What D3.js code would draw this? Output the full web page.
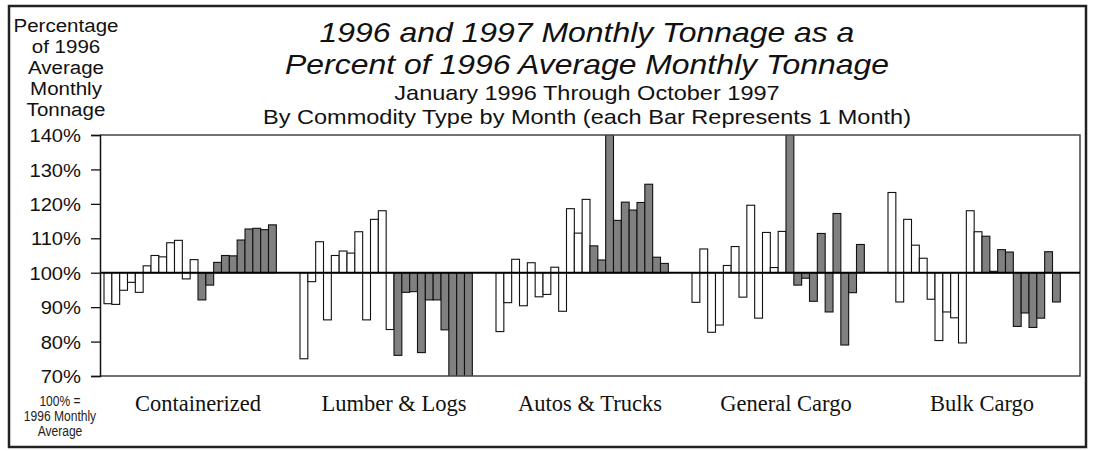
<!DOCTYPE html>
<html><head><meta charset="utf-8">
<script src="https://cdn.jsdelivr.net/npm/d3@7"></script>
<style>
html,body{margin:0;padding:0;background:#fff;}
svg{display:block;}
</style></head>
<body>
<svg id="chart" width="1094" height="451"></svg>
<script>
// ---------- DATA ----------
const categories = ["Containerized", "Lumber & Logs", "Autos & Trucks", "General Cargo", "Bulk Cargo"];
// Jan..Dec 1996 and Jan..Oct 1997 (each value = % of 1996 average monthly tonnage)
const containerized1996 = [91.0, 90.8, 94.9, 97.2, 94.3, 102.0, 105.0, 104.6, 108.7, 109.4, 98.2, 103.8];
const containerized1997 = [92.1, 96.4, 103.0, 105.0, 104.9, 109.5, 112.7, 112.9, 112.5, 113.9];
const lumber1996 = [75.0, 97.4, 109.0, 86.3, 105.0, 106.3, 105.7, 111.9, 86.3, 115.5, 118.0, 83.5];
const lumber1997 = [76.0, 94.3, 94.5, 76.8, 92.1, 92.1, 83.4, 66.0, 64.0, 67.0];
const autos1996 = [82.9, 91.3, 103.9, 90.4, 102.9, 93.0, 93.7, 101.6, 88.8, 118.6, 111.5, 121.3];
const autos1997 = [107.8, 103.7, 148.0, 115.2, 120.5, 118.2, 120.4, 125.7, 104.5, 102.7];
const general1996 = [91.4, 106.9, 82.7, 84.8, 102.1, 107.6, 92.9, 119.6, 86.8, 111.7, 101.5, 112.0];
const general1997 = [150.0, 96.4, 98.4, 91.7, 111.4, 88.6, 117.2, 79.0, 94.2, 108.2];
const bulk1996 = [123.3, 91.5, 115.5, 108.0, 104.2, 92.3, 80.3, 88.6, 86.9, 79.6, 118.0, 111.9];
const bulk1997 = [110.6, 100.4, 106.7, 106.0, 84.4, 88.3, 84.1, 86.8, 106.1, 91.5];
const yTicks = [70, 80, 90, 100, 110, 120, 130, 140];
const titleLines = ["1996 and 1997 Monthly Tonnage as a", "Percent of 1996 Average Monthly Tonnage"];
const subtitleLines = ["January 1996 Through October 1997", "By Commodity Type by Month (each Bar Represents 1 Month)"];
const yLabelLines = ["Percentage", "of 1996", "Average", "Monthly", "Tonnage"];
const noteLines = ["100% =", "1996 Monthly", "Average"];

const series = [
  [containerized1996, containerized1997],
  [lumber1996, lumber1997],
  [autos1996, autos1997],
  [general1996, general1997],
  [bulk1996, bulk1997]
];

// ---------- LAYOUT ----------
const svg = d3.select("#chart");
const L = 100, R = 1080, T = 135, B = 376;
const SANS = "'Liberation Sans', Arial, Helvetica, sans-serif";
const SERIF = "'Liberation Serif', 'Times New Roman', serif";
const STRETCH = 1.12;

function stretch(sel, f) {
  sel.each(function () {
    const len = this.getComputedTextLength();
    d3.select(this).attr("textLength", len * f).attr("lengthAdjust", "spacingAndGlyphs");
  });
}

const x = d3.scaleBand().domain(categories).range([L, R]).padding(0);
const slot = d3.scaleBand().domain(d3.range(24)).range([4, x.bandwidth() - 4]).padding(0);
const y = d3.scaleLinear().domain([70, 140]).range([B, T]);

// outer border
svg.append("rect").attr("x", 9).attr("y", 6).attr("width", 1077).attr("height", 441)
  .attr("fill", "none").attr("stroke", "#222").attr("stroke-width", 2.5);

// clip
svg.append("clipPath").attr("id", "plotclip").append("rect")
  .attr("x", L).attr("y", T).attr("width", R - L).attr("height", B - T);

// bars
const barsG = svg.append("g").attr("clip-path", "url(#plotclip)");
const barData = [];
categories.forEach((c, ci) => {
  series[ci][0].forEach((v, i) => barData.push({ c, i, v, yr: 1996 }));
  series[ci][1].forEach((v, i) => barData.push({ c, i: i + 12, v, yr: 1997 }));
});
barsG.selectAll("rect").data(barData).join("rect")
  .attr("x", d => x(d.c) + slot(d.i))
  .attr("width", slot.bandwidth())
  .attr("y", d => y(Math.max(d.v, 100)))
  .attr("height", d => Math.abs(y(d.v) - y(100)))
  .attr("fill", d => d.yr === 1996 ? "#fff" : "#808080")
  .attr("stroke", "#111").attr("stroke-width", 1.1);

// plot frame (top, right, bottom)
svg.append("path")
  .attr("d", `M${L},${T}H${R}V${B}H${L}`)
  .attr("fill", "none").attr("stroke", "#444").attr("stroke-width", 1.5);

// baseline 100%
svg.append("line").attr("x1", L).attr("x2", R).attr("y1", y(100)).attr("y2", y(100))
  .attr("stroke", "#000").attr("stroke-width", 2);

// y axis
const yAxis = svg.append("g").attr("transform", `translate(${L},0)`)
  .call(d3.axisLeft(y).tickValues(yTicks).tickSize(9).tickPadding(10).tickFormat(d => d + "%"));
yAxis.select(".domain").attr("stroke", "#111").attr("stroke-width", 1.5);
yAxis.selectAll(".tick line").attr("stroke", "#111").attr("stroke-width", 1.3);
yAxis.selectAll(".tick text").attr("font-family", SANS).attr("font-size", 18.5).attr("fill", "#111")
  .attr("dy", "0.36em").call(stretch, 1.09);

// y label
const yl = svg.append("text").attr("font-family", SANS).attr("font-size", 18).attr("fill", "#111")
  .attr("text-anchor", "middle");
yl.selectAll("tspan").data(yLabelLines).join("tspan")
  .attr("x", 66).attr("y", (d, i) => 32 + i * 21).text(d => d);
yl.selectAll("tspan").call(stretch, 1.14);

// titles
svg.selectAll(".title").data(titleLines).join("text").attr("class", "title")
  .attr("x", 587).attr("y", (d, i) => 42 + i * 32)
  .attr("text-anchor", "middle").attr("font-family", SANS).attr("font-style", "italic")
  .attr("font-size", 28.5).attr("fill", "#111").text(d => d).call(stretch, STRETCH);
svg.selectAll(".subtitle").data(subtitleLines).join("text").attr("class", "subtitle")
  .attr("x", 587).attr("y", (d, i) => 100 + i * 24)
  .attr("text-anchor", "middle").attr("font-family", SANS)
  .attr("font-size", 21).attr("fill", "#111").text(d => d).call(stretch, STRETCH);

// category labels
svg.selectAll(".cat").data(categories).join("text").attr("class", "cat")
  .attr("x", d => x(d) + x.bandwidth() / 2).attr("y", 411)
  .attr("text-anchor", "middle").attr("font-family", SERIF).attr("font-size", 22.5)
  .attr("fill", "#111").text(d => d);

// bottom-left note
svg.selectAll(".note").data(noteLines).join("text").attr("class", "note")
  .attr("x", 60).attr("y", (d, i) => 406 + i * 15)
  .attr("text-anchor", "middle").attr("font-family", SANS)
  .attr("font-size", 14).attr("fill", "#222").text(d => d)
  .call(stretch, 0.86);
</script>
</body></html>
